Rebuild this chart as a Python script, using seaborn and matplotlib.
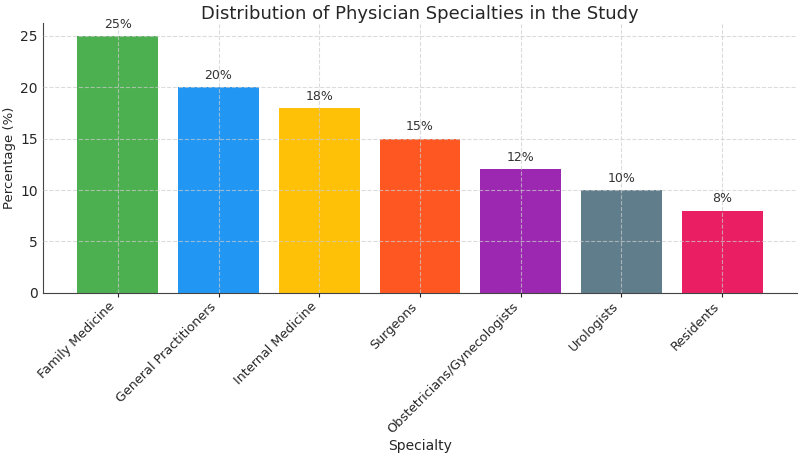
import matplotlib
matplotlib.use("Agg")
import matplotlib.pyplot as plt
import pandas as pd
import seaborn as sns

# Data
specialties = ["Family Medicine", "General Practitioners", "Internal Medicine", "Surgeons",
               "Obstetricians/Gynecologists", "Urologists", "Residents"]
percentages = [25, 20, 18, 15, 12, 10, 8]
colors = ["#4CAF50", "#2196F3", "#FFC107", "#FF5722", "#9C27B0", "#607D8B", "#E91E63"]

df = pd.DataFrame({"Specialty": specialties, "Percentage": percentages})

sns.set_style("white")
plt.rcParams['font.family'] = ['DejaVu Sans']

fig, ax = plt.subplots(figsize=(8, 4.57), dpi=100)
sns.barplot(data=df, x="Specialty", y="Percentage", hue="Specialty", palette=colors,
            legend=False, width=0.8, saturation=1, linewidth=0, ax=ax)

for i, v in enumerate(percentages):
    ax.text(i, v + 0.5, f"{v}%", ha="center", va="bottom", fontsize=9, color="#333333")

ax.set_title("Distribution of Physician Specialties in the Study", fontsize=13, pad=3)
ax.set_xlabel("Specialty", fontsize=10, labelpad=2)
ax.set_ylabel("Percentage (%)", fontsize=9.5, labelpad=3)
ax.set_ylim(0, 26.25)
ax.set_xlim(-0.74, 6.74)
ax.grid(True, linestyle="--", color="#cccccc", alpha=0.7, linewidth=0.8)
ax.set_axisbelow(False)
ax.tick_params(axis="y", labelsize=10, length=0, left=True, pad=4)
ax.tick_params(axis="x", labelsize=9.2, length=3, bottom=True, pad=2)
plt.setp(ax.get_xticklabels(), rotation=45, ha="right")
sns.despine(ax=ax)
for s in ["left", "bottom"]:
    ax.spines[s].set_color("#444444")

fig.subplots_adjust(left=0.054, right=0.996, top=0.95, bottom=0.359)
plt.savefig("out.png", dpi=100)
